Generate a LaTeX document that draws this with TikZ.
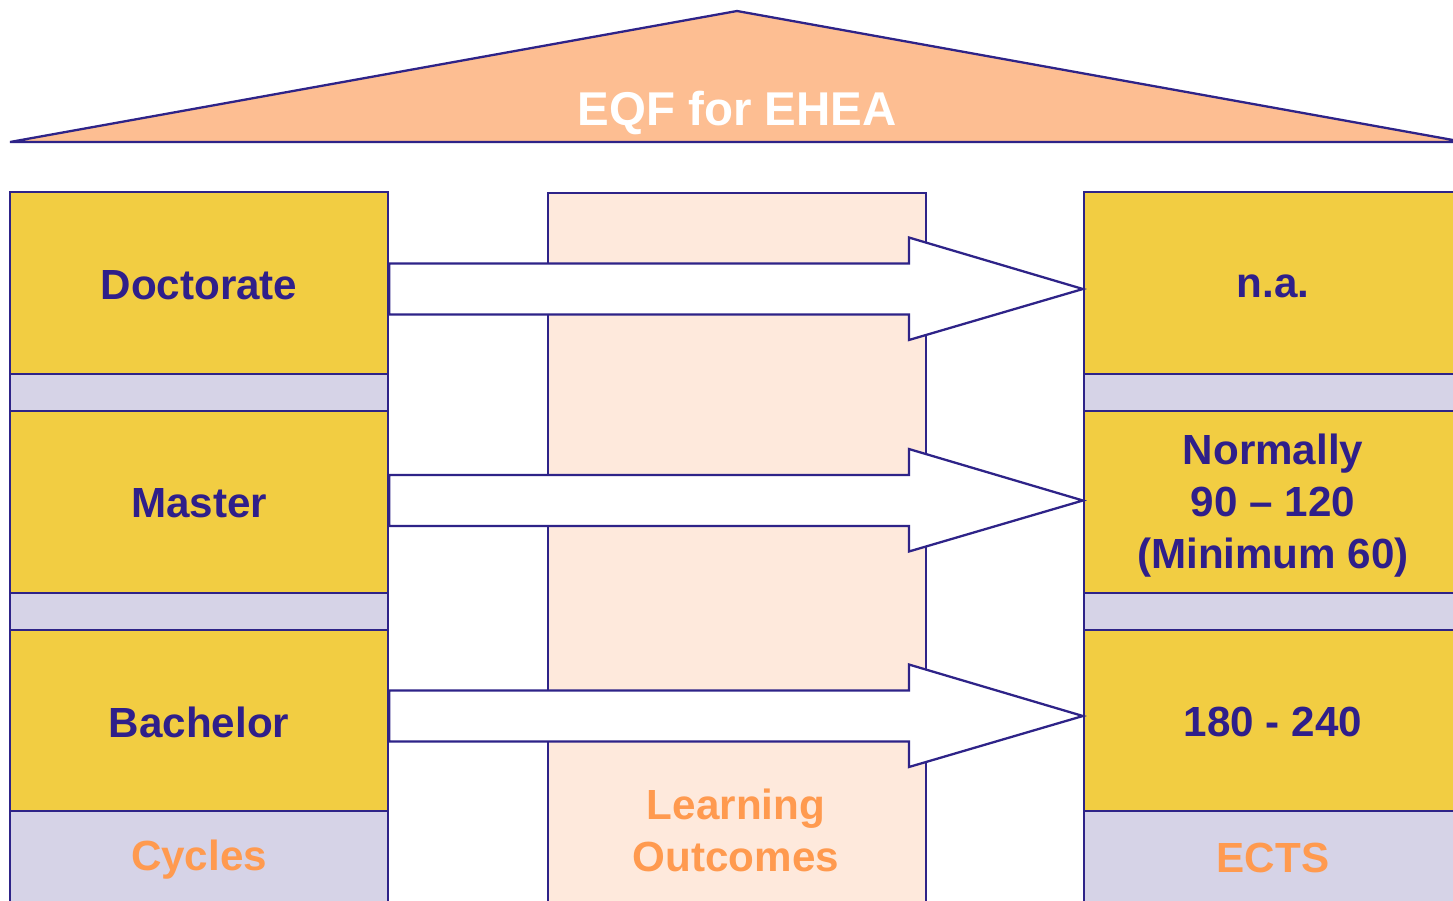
\documentclass[tikz,border=0pt]{standalone}
\usepackage{fontspec}
\setmainfont{Liberation Sans}
\usetikzlibrary{calc}
\definecolor{navy}{HTML}{2E2388}
\definecolor{cellyellow}{HTML}{F2CD42}
\definecolor{lav}{HTML}{D6D3E7}
\definecolor{peach}{HTML}{FEE9DC}
\definecolor{roofcol}{HTML}{FDBE92}
\definecolor{orangetext}{HTML}{FF9A4F}
\definecolor{navytext}{HTML}{2F1F8A}
\newcommand\fatarrow[2]{%
  \draw[bigarrow] ($(#1)+(0,-25.5)$) -- ($(#2)+(-174,-25.5)$) -- ($(#2)+(-174,-51.5)$)
    -- (#2) -- ($(#2)+(-174,51)$) -- ($(#2)+(-174,25.5)$) -- ($(#1)+(0,25.5)$) -- cycle;}
\begin{document}
\begin{tikzpicture}[x=0.02cm,y=-0.02cm,
  border/.style={draw=navy, line width=1.3pt},
  lbl/.style={font=\fontsize{24}{29.6}\selectfont\bfseries, text=navytext, align=center, inner sep=0pt},
  cell/.style={border, rectangle, minimum width=7.56cm, inner sep=0pt, lbl},
  tall/.style={cell, fill=cellyellow, minimum height=3.64cm},
  gapcell/.style={cell, fill=lav, minimum height=0.74cm},
  foot/.style={cell, fill=lav, minimum height=1.84cm, text=orangetext},
  bigarrow/.style={border, fill=white, line join=miter}]
\clip (0,0) rectangle (1453,900);
\fill[white] (0,0) rectangle (1453,900);
% roof
\draw[border, fill=roofcol] (10,142) coordinate (rl) -- (737,11) coordinate (apex)
  -- (1464,142) coordinate (rr) -- cycle;
\node[font=\fontsize{27}{32}\selectfont\bfseries, text=white] (title) at (737,113) {EQF for EHEA};
% centre column
\node[border, fill=peach, minimum width=7.56cm, minimum height=14.26cm, anchor=north west, inner sep=0pt] (lo) at (547,192) {};
% left column
\node[tall] (doc) at (199,283) {};
\node[lbl] (doct) at (199,285) {Doctorate};
\node[gapcell] (lg1) at (199,392.5) {};
\node[tall] (mas) at (199,502) {};
\node[lbl] (mast) at (199,503) {Master};
\node[gapcell] (lg2) at (199,611.5) {};
\node[tall] (bac) at (199,721) {};
\node[lbl] (bact) at (199,722) {Bachelor};
\node[foot] (cyc) at (199,857) {};
\node[lbl, text=orangetext] (cyct) at (199,860) {Cycles};
% right column
\node[tall] (na) at (1273,283) {};
\node[lbl] (nat) at (1273,286) {n.a.};
\node[gapcell] (rg1) at (1273,392.5) {};
\node[tall] (norm) at (1273,502) {};
\node[lbl] (normt) at (1273,506) {Normally\\90 -- 120\\(Minimum 60)};
\node[gapcell] (rg2) at (1273,611.5) {};
\node[tall] (ects1) at (1273,721) {};
\node[lbl] (ects1t) at (1273,722) {180 - 240};
\node[foot] (ects) at (1273,857) {};
\node[lbl, text=orangetext] (ectst) at (1273,858) {ECTS};
% arrows
\coordinate (t1) at (na.west |- 0,289);
\coordinate (t2) at (norm.west |- 0,500.5);
\coordinate (t3) at (ects1.west |- 0,716);
\coordinate (s1) at (doc.east |- t1);
\coordinate (s2) at (mas.east |- t2);
\coordinate (s3) at (bac.east |- t3);
\fatarrow{s1}{t1}
\fatarrow{s2}{t2}
\fatarrow{s3}{t3}
% learning outcomes label
\node[lbl, text=orangetext] (lotext) at (736,830) {Learning\\Outcomes};
\end{tikzpicture}
\end{document}
